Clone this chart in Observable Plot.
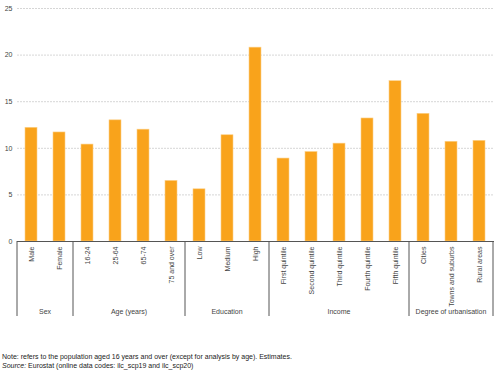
<!DOCTYPE html>
<html>
<head>
<meta charset="utf-8">
<script src="https://cdn.jsdelivr.net/npm/d3@7"></script>
<script src="https://cdn.jsdelivr.net/npm/@observablehq/plot@0.6"></script>
<style>
  body { margin: 0; background: #fff; font-family: "Liberation Sans", Arial, sans-serif; }
  #chart { width: 500px; height: 370px; position: relative; }
  .note { position: absolute; left: 2px; font-size: 7px; color: #222; line-height: 9px; }
</style>
</head>
<body>
<div id="chart"></div>
<script>
const categories = ["Male","Female","16-24","25-64","65-74","75 and over","Low","Medium","High",
  "First quintile","Second quintile","Third quintile","Fourth quintile","Fifth quintile",
  "Cities","Towns and suburbs","Rural areas"];
const values = [12.2,11.7,10.4,13.0,12.0,6.5,5.6,11.4,20.8,8.9,9.6,10.5,13.2,17.2,13.7,10.7,10.8];
const groups = ["Sex","Sex","Age (years)","Age (years)","Age (years)","Age (years)",
  "Education","Education","Education","Income","Income","Income","Income","Income",
  "Degree of urbanisation","Degree of urbanisation","Degree of urbanisation"];
const yTicks = [0,5,10,15,20,25];

const data = categories.map((c,i)=>({category:c, value:values[i], group:groups[i]}));

const plot = Plot.plot({
  width: 500,
  height: 330,
  marginTop: 8,
  marginBottom: 89,
  marginLeft: 17,
  marginRight: 6,
  style: {fontFamily: "'Liberation Sans', Arial, sans-serif", fontSize: "7px", color: "#444", background: "#fff"},
  x: {domain: categories, paddingInner: 0.57, paddingOuter: 0.285, label: null},
  y: {domain: [0,25], ticks: yTicks, label: null},
  marks: [
    Plot.gridY(yTicks, {stroke: "#bbb", strokeOpacity: 1, strokeDasharray: "2,1", strokeWidth: 0.6}),
    Plot.axisY(yTicks, {tickSize: 0, tickPadding: 5, label: null, fill: "#444"}),
    Plot.barY(data, {x: "category", y: "value", fill: "#f9a31b", stroke: "#fcd089", strokeWidth: 0.6}),
    Plot.ruleY([0], {stroke: "#555", strokeWidth: 1}),
    Plot.axisX({tickSize: 0, tickPadding: 5, tickRotate: -90, label: null, fill: "#444"})
  ]
});
document.getElementById("chart").appendChild(plot);

// group separators and labels, placed through the x scale
const xs = plot.scale("x");
const step = xs.step, bw = xs.bandwidth;
const svg = d3.select(plot);
const y0 = 241, y1 = 316;
const groupNames = [...new Set(groups)];
const bounds = [];
groupNames.forEach(g => {
  const members = categories.filter((c,i)=>groups[i]===g);
  const first = xs.apply(members[0]) - (step - bw)/2;
  const last = xs.apply(members[members.length-1]) + bw + (step - bw)/2;
  bounds.push(first, last);
  svg.append("text")
    .attr("x", (first + last)/2).attr("y", 314)
    .attr("text-anchor", "middle")
    .attr("font-size", 7).attr("fill", "#444")
    .text(g);
});
[...new Set(bounds.map(b=>Math.round(b*10)/10))].forEach(b => {
  svg.append("line")
    .attr("x1", b).attr("x2", b).attr("y1", y0).attr("y2", y1)
    .attr("stroke", "#555").attr("stroke-width", 1);
});

const note = document.createElement("div");
note.className = "note";
note.style.top = "352px";
note.innerHTML = "Note: refers to the population aged 16 years and over (except for analysis by age). Estimates.<br><i>Source:</i> Eurostat (online data codes: ilc_scp19 and ilc_scp20)";
document.getElementById("chart").appendChild(note);
</script>
</body>
</html>
